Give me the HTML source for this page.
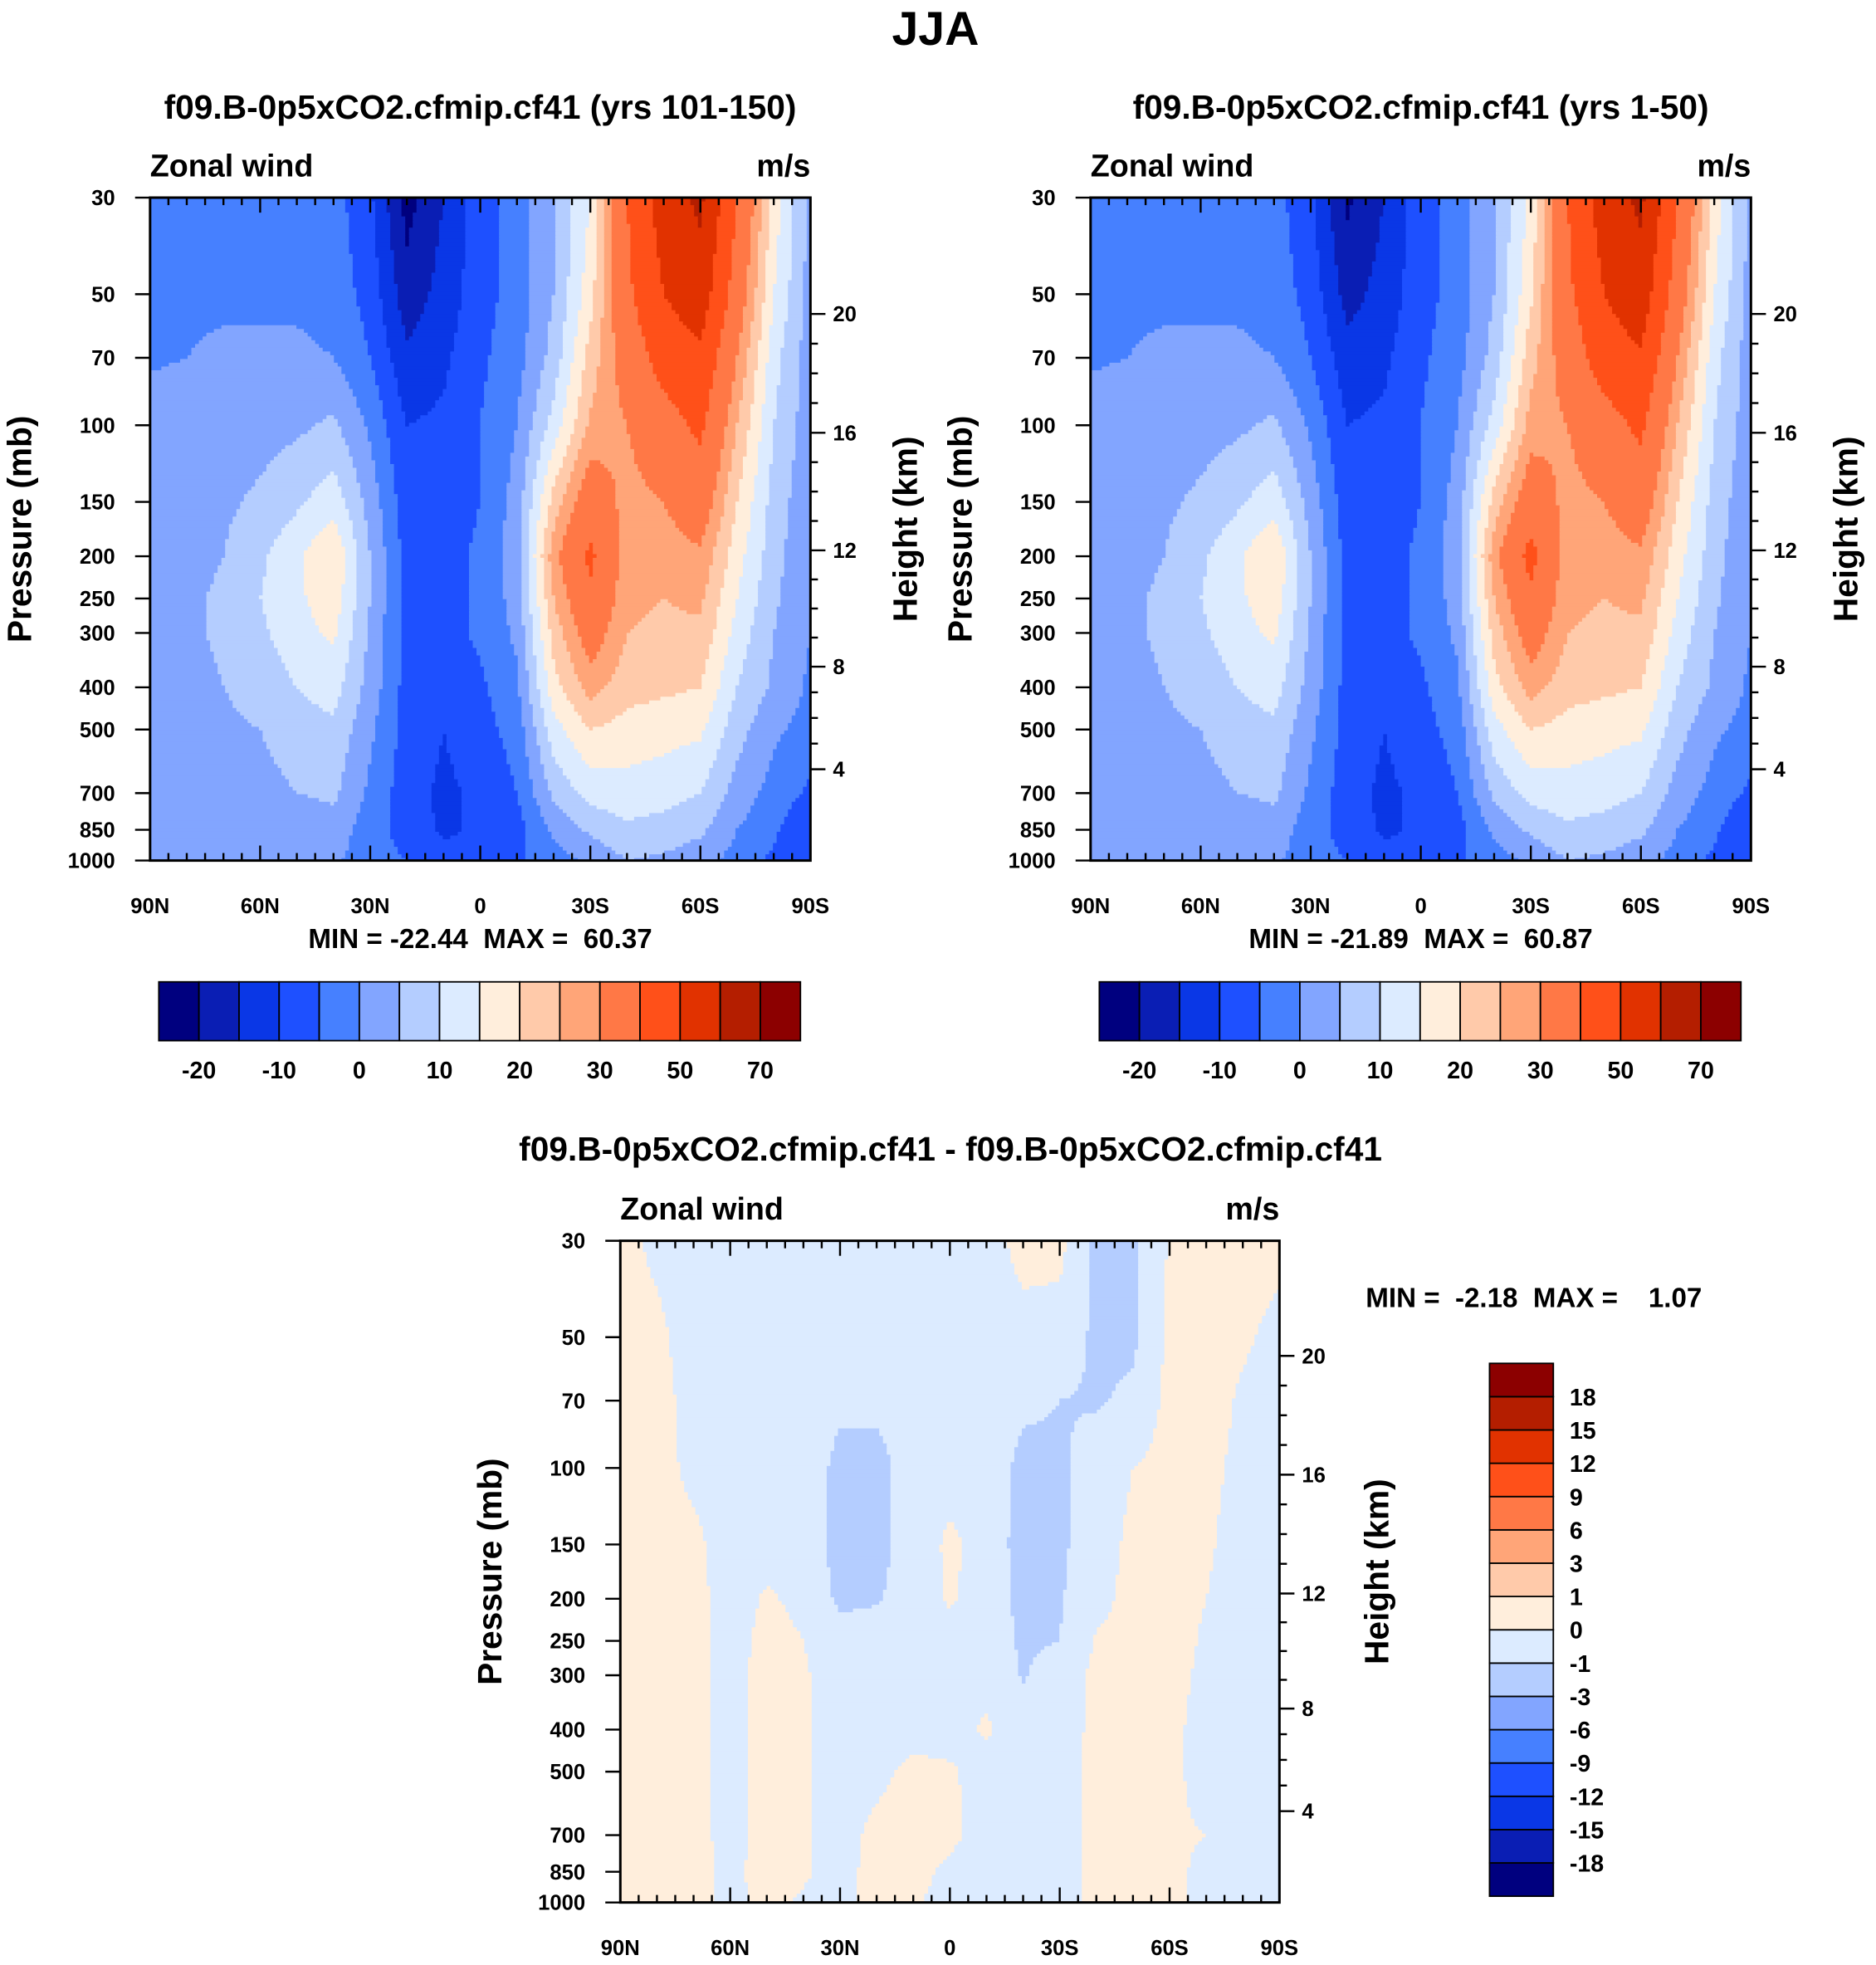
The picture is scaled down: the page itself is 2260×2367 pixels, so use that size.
<!DOCTYPE html>
<html><head><meta charset="utf-8"><style>
html,body{margin:0;padding:0;background:#fff}
svg{display:block}
text{font-family:"Liberation Sans",sans-serif;font-weight:bold;fill:#000}
</style></head><body>
<svg id="fig" xmlns="http://www.w3.org/2000/svg" width="2260" height="2367" viewBox="0 0 1500 1571" preserveAspectRatio="none">
<text x="748" y="36" font-size="38" text-anchor="middle">JJA</text>
<g id="g1"></g>
<g id="g2"></g>
<g id="g3"></g>
</svg>
<script>
const lats=[90,80,70,60,50,40,30,20,10,0,-10,-20,-30,-40,-50,-60,-70,-80,-90];
const plevs=[30,50,70,100,150,200,250,300,400,500,700,850,1000];
const heightTicks=[20,16,12,8,4];
const latLabels=['90N','60N','30N','0','30S','60S','90S'];
const latLabelVals=[90,60,30,0,-30,-60,-90];
const levelsMain=[-20,-15,-10,-5,0,5,10,15,20,25,30,40,50,60,70];
const cbLabelsMain=['-20','-10','0','10','20','30','50','70'];
const levelsDiff=[-18,-15,-12,-9,-6,-3,-1,0,1,3,6,9,12,15,18];
const colors=['#00007f','#0a1eb4','#0a37e6','#1e50ff','#4680ff','#82a5ff','#b4cdff','#dcebff','#ffeedc','#ffcaaa','#ffa578','#ff7846','#ff5019','#e13200','#b41e00','#8c0000'];
const u1=[
[-2,-1,-0.5,2,2,2,2,2,2,2,2,2,1],
[-2,-1,0,2,3,3,4,4,3,3,2,2,1],
[-2,-1,1,2,4,5,6,6,5,4,3,2,1],
[-2,-1,1,3,6,9,10,9,7,5,3,2,1],
[-2,-1,1,4,9,14,14,13,10,8,5,2,1],
[-3,-2,0,6,13,20,18,16,12,9,6,3,1],
[-9,-7,-5,-1,3,5,5,4,3,1,-1,-3,-3],
[-22,-18,-14,-10,-8,-7,-7,-7,-7,-7,-8,-7,-5],
[-15,-13,-11,-9,-8,-7,-7,-7,-8,-10,-11,-11,-8],
[-7,-7,-6,-5,-5,-4,-4,-4,-6,-7,-9,-9,-8],
[-3,-3,-2,0,2,3,2,1,-1,-3,-5,-7,-6],
[5,5,7,12,22,28,25,22,18,13,6,1,-2],
[15,18,22,26,35,42,38,34,27,20,12,6,1],
[40,38,34,30,28,27,26,25,22,18,13,9,5],
[55,50,44,36,30,27,25,24,21,17,12,8,4],
[62,56,48,42,35,29,26,24,20,16,10,6,2],
[40,35,30,25,20,17,15,13,10,7,3,0,-2],
[18,15,12,10,8,7,6,5,4,1,-2,-4,-6],
[3,3,2,2,1,0,0,0,-1,-2,-6,-10,-10]];
const u2=[
[-2,-1,-0.5,2,2,2,2,2,2,2,2,2,1],
[-2,-1,0,2,3,3,4,4,3,3,2,2,1],
[-2,-1,1,2,4,5,6,6,5,4,3,2,1],
[-2,-1,1,3,6,9,10,9,7,5,3,2,1],
[-2,-1,1,4,9,14,14,13,10,8,5,2,1],
[-3,-2,0,6,13,20,18,16,12,9,6,3,1],
[-9,-7,-5,-1,3,5,5,4,3,1,-1,-3,-3],
[-21,-17,-13,-10,-8,-7,-7,-7,-7,-7,-8,-7,-5],
[-15,-13,-11,-9,-8,-7,-7,-7,-8,-10,-11,-11,-8],
[-7,-7,-6,-5,-5,-4,-4,-4,-6,-7,-9,-9,-8],
[-3,-3,-2,0,2,3,2,1,-1,-3,-5,-7,-6],
[5,5,7,12,22,28,25,22,18,13,6,1,-2],
[16,19,23,27,35,43,38,34,27,20,12,6,1],
[40,38,34,30,28,27,26,25,22,18,13,9,5],
[55,50,45,36,30,27,25,24,21,17,12,8,4],
[62,56,49,42,35,29,26,24,20,16,10,6,2],
[40,35,30,25,20,17,15,13,10,7,3,0,-2],
[18,15,12,10,8,7,6,5,4,1,-2,-4,-6],
[3,3,2,2,1,0,0,0,-1,-2,-6,-10,-10]];
const ud=[
[0.3,0.3,0.3,0.3,0.3,0.3,0.3,0.3,0.3,0.3,0.3,0.3,0.3],
[-0.2,0.2,0.3,0.3,0.3,0.3,0.3,0.3,0.3,0.3,0.3,0.3,0.3],
[-0.5,-0.4,-0.3,-0.2,0.2,0.3,0.3,0.3,0.3,0.3,0.3,0.3,0.3],
[-0.4,-0.4,-0.4,-0.4,-0.4,-0.4,-0.4,-0.4,-0.4,-0.4,-0.3,-0.2,-0.2],
[-0.4,-0.4,-0.4,-0.4,-0.3,0.1,0.3,0.4,0.4,0.4,0.3,0.3,0.2],
[-0.4,-0.4,-0.4,-0.4,-0.4,-0.2,0,0.1,0.1,0.1,0.1,0.1,-0.1],
[-0.5,-0.6,-0.8,-1.3,-1.4,-1.2,-0.6,-0.4,-0.3,-0.3,-0.3,-0.3,-0.3],
[-0.5,-0.6,-0.8,-1.3,-1.3,-1.1,-0.5,-0.4,-0.3,-0.2,0.2,0.3,0.3],
[-0.5,-0.5,-0.5,-0.6,-0.6,-0.5,-0.5,-0.4,-0.3,0.2,0.4,0.3,0.1],
[-0.5,-0.5,-0.5,-0.4,0.2,0.1,-0.3,-0.4,-0.3,0.1,0.2,-0.2,-0.3],
[-0.4,-0.4,-0.4,-0.4,-0.4,-0.4,-0.3,-0.2,0.1,-0.3,-0.4,-0.4,-0.4],
[0.3,-0.3,-0.8,-1.3,-1.4,-1.3,-1.2,-1.1,-0.5,-0.4,-0.4,-0.4,-0.4],
[0.3,-0.4,-1,-1.2,-1.2,-1.1,-1.0,-0.4,-0.4,-0.4,-0.4,-0.4,-0.4],
[-1.3,-1.2,-1.1,-0.5,-0.4,-0.3,0.1,0.2,0.2,0.3,0.3,0.3,0.3],
[-1.2,-1.2,-0.8,0,0.2,0.3,0.3,0.3,0.3,0.3,0.3,0.3,0.3],
[0.1,0.2,0.3,0.3,0.3,0.3,0.3,0.3,0.2,0.2,0.1,0.2,0.2],
[0.3,0.3,0.3,0.2,0.1,0,-0.1,-0.2,-0.3,-0.3,0,-0.2,-0.2],
[0.3,0.1,-0.1,-0.2,-0.3,-0.3,-0.3,-0.3,-0.3,-0.3,-0.3,-0.3,-0.3],
[0.2,-0.2,-0.3,-0.3,-0.3,-0.3,-0.3,-0.3,-0.3,-0.3,-0.3,-0.3,-0.3]];

const NS='http://www.w3.org/2000/svg';
function mk(parent,tag,attrs,txt){const e=document.createElementNS(NS,tag);for(const k in attrs)e.setAttribute(k,attrs[k]);if(txt!==undefined)e.textContent=txt;parent.appendChild(e);return e;}
function classify(v,levels){let i=0;while(i<levels.length&&v>=levels[i])i++;return i;}

function drawPanel(g,P,grid,levels,title,minmax){
  const xs=lat=>P.x0+(90-lat)/180*(P.x1-P.x0);
  const ys=p=>P.y0+(P.y1-P.y0)*Math.log(p/30)/Math.log(1000/30);
  const gx=lats.map(xs), gy=plevs.map(ys);
  const step=3;
  const fill=mk(g,'g',{});
  
  
  function val(x,y){
    let i=0;while(i<gx.length-2&&x>gx[i+1])i++;
    let j=0;while(j<gy.length-2&&y>gy[j+1])j++;
    const tx=Math.max(0,Math.min(1,(x-gx[i])/(gx[i+1]-gx[i])));
    const ty=Math.max(0,Math.min(1,(y-gy[j])/(gy[j+1]-gy[j])));
    const a=grid[i][j],b=grid[i+1][j],c=grid[i][j+1],d=grid[i+1][j+1];
    return a*(1-tx)*(1-ty)+b*tx*(1-ty)+c*(1-tx)*ty+d*tx*ty;
  }
  function flush(x0,x1,y,h,c){
    const r=mk(fill,'rect',{x:x0,y:y,width:x1-x0+0.6,height:h+0.6,fill:colors[c]});
    
    
  }
  for(let y=P.y0;y<P.y1;y+=step){
    const h=Math.min(step,P.y1-y);
    let runStart=P.x0,runC=null;
    for(let x=P.x0;x<P.x1;x+=step){
      const w=Math.min(step,P.x1-x);
      const c=classify(val(x+w/2,y+h/2),levels);
      if(c!==runC){
        if(runC!==null)flush(runStart,x,y,h,runC);
        runStart=x;runC=c;
      }
    }
    flush(runStart,P.x1,y,h,runC);
  }
  const fr=mk(g,'rect',{x:P.x0,y:P.y0,width:P.x1-P.x0,height:P.y1-P.y0,fill:'none',stroke:'#000','stroke-width':2});
  
  
  const ax=mk(g,'g',{stroke:'#000','stroke-width':1.6});
  
  
  for(let l=90;l>=-90;l-=5){
    const x=xs(l);const major=l%30===0;const len=major?12:6;
    mk(ax,'line',{x1:x,y1:P.y0,x2:x,y2:P.y0+len});
    mk(ax,'line',{x1:x,y1:P.y1,x2:x,y2:P.y1-len});
  }
  plevs.forEach(p=>{const y=ys(p);mk(ax,'line',{x1:P.x0-12,y1:y,x2:P.x0,y2:y});});
  const hy=[P.h20,P.h16,P.h12,P.h8,P.h4];
  hy.forEach(y=>mk(ax,'line',{x1:P.x1,y1:y,x2:P.x1+12,y2:y}));
  for(let k=0;k<hy.length-1;k++){for(let m=1;m<4;m++){const y=hy[k]+(hy[k+1]-hy[k])*m/4;mk(ax,'line',{x1:P.x1,y1:y,x2:P.x1+6,y2:y});}}
  const lab=mk(g,'g',{'font-size':17});
  
  
  plevs.forEach(p=>mk(lab,'text',{x:P.x0-28,y:ys(p)+6,'text-anchor':'end'},String(p)));
  heightTicks.forEach((h,k)=>mk(lab,'text',{x:P.x1+18,y:hy[k]+6},String(h)));
  latLabels.forEach((t,k)=>mk(lab,'text',{x:xs(latLabelVals[k]),y:P.y1+42,'text-anchor':'middle'},t));
  const zt=mk(g,'text',{x:P.x0,y:P.y0-17,'font-size':25},'Zonal wind');
  
  const ut=mk(g,'text',{x:P.x1,y:P.y0-17,'font-size':25,'text-anchor':'end'},'m/s');
  
  const cy=(P.y0+P.y1)/2;
  const pt=mk(g,'text',{x:P.pX,y:cy,'font-size':27,'text-anchor':'middle',transform:`rotate(-90 ${P.pX} ${cy})`},'Pressure (mb)');
  
  const ht=mk(g,'text',{x:P.hX,y:cy,'font-size':27,'text-anchor':'middle',transform:`rotate(-90 ${P.hX} ${cy})`},'Height (km)');
  
  const tt=mk(g,'text',{x:P.tX,y:P.tY,'font-size':27,'text-anchor':'middle'},title);
  
  const mm=mk(g,'text',minmax.attrs,minmax.text);
  
  mm.setAttribute('xml:space','preserve');mm.style.whiteSpace='pre';
}
function hbar(g,x0,x1,y0,y1){
  const cb=mk(g,'g',{});
  
  const w=(x1-x0)/16;
  colors.forEach((c,i)=>{const r=mk(cb,'rect',{x:x0+i*w,y:y0,width:w,height:y1-y0,fill:c,stroke:'#000','stroke-width':1.2});
    });
  cbLabelsMain.forEach((t,k)=>mk(cb,'text',{x:x0+w*(1+2*k),y:y1+30,'font-size':19,'text-anchor':'middle'},t));
}
function vbar(g,x0,x1,y0,y1){
  const cb=mk(g,'g',{});
  
  const h=(y1-y0)/16;
  colors.forEach((c,i)=>{const r=mk(cb,'rect',{x:x0,y:y1-(i+1)*h,width:x1-x0,height:h,fill:c,stroke:'#000','stroke-width':1.2});
    });
  levelsDiff.forEach((v,i)=>mk(cb,'text',{x:x1+13,y:y1-(i+1)*h+7,'font-size':19},String(v)));
}
const g1=document.getElementById('g1'),g2=document.getElementById('g2'),g3=document.getElementById('g3');
drawPanel(g1,{x0:120,x1:648,y0:158,y1:688,h20:251,h16:346,h12:440,h8:533,h4:615,pX:25,hX:733,tX:384,tY:95},u1,levelsMain,
 'f09.B-0p5xCO2.cfmip.cf41 (yrs 101-150)',{attrs:{x:384,y:758,'font-size':22,'text-anchor':'middle'},text:'MIN = -22.44  MAX =  60.37'});
hbar(g1,127,640,785,832);
drawPanel(g2,{x0:872,x1:1400,y0:158,y1:688,h20:251,h16:346,h12:440,h8:533,h4:615,pX:777,hX:1485,tX:1136,tY:95},u2,levelsMain,
 'f09.B-0p5xCO2.cfmip.cf41 (yrs 1-50)',{attrs:{x:1136,y:758,'font-size':22,'text-anchor':'middle'},text:'MIN = -21.89  MAX =  60.87'});
hbar(g2,879,1392,785,832);
drawPanel(g3,{x0:496,x1:1023,y0:992,y1:1521,h20:1084,h16:1179,h12:1274,h8:1366,h4:1448,pX:401,hX:1110,tX:760,tY:928},ud,levelsDiff,
 'f09.B-0p5xCO2.cfmip.cf41 - f09.B-0p5xCO2.cfmip.cf41',{attrs:{x:1092,y:1045,'font-size':22},text:'MIN =  -2.18  MAX =    1.07'});
vbar(g3,1191,1242,1090,1516);
</script>
</body></html>
